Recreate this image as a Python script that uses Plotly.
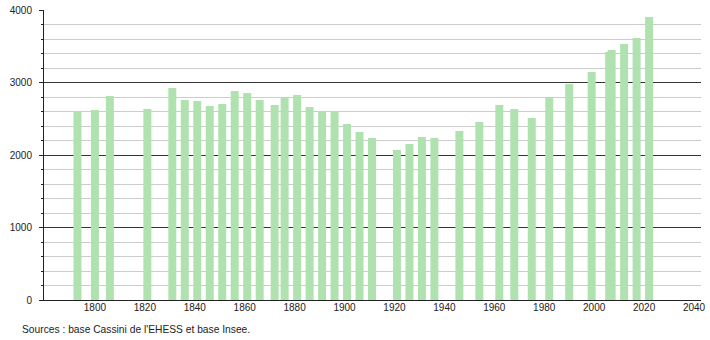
import plotly.graph_objects as go

years = [1793, 1800, 1806, 1821, 1831, 1836, 1841, 1846, 1851, 1856,
         1861, 1866, 1872, 1876, 1881, 1886, 1891, 1896, 1901, 1906,
         1911, 1921, 1926, 1931, 1936, 1946, 1954, 1962, 1968, 1975,
         1982, 1990, 1999, 2006, 2007, 2012, 2017, 2022]
population = [2593, 2621, 2814, 2634, 2924, 2759, 2745, 2676, 2703, 2883,
              2855, 2759, 2690, 2786, 2828, 2662, 2607, 2593, 2428, 2317,
              2234, 2069, 2152, 2248, 2234, 2331, 2455, 2690, 2634, 2510,
              2786, 2979, 3145, 3421, 3448, 3531, 3614, 3903]
x_ticks = [1800, 1820, 1840, 1860, 1880, 1900, 1920, 1940, 1960, 1980, 2000, 2020, 2040]
y_ticks = [0, 1000, 2000, 3000, 4000]
source_text = "Sources : base Cassini de l'EHESS et base Insee."

fig = go.Figure()
fig.add_trace(go.Bar(
    x=years, y=population, width=3.2,
    marker=dict(color="rgb(176,226,176)", line=dict(width=0)),
    hoverinfo="x+y",
))

fig.update_layout(
    width=710, height=340,
    margin=dict(l=44, r=9, t=10, b=40, autoexpand=False),
    paper_bgcolor="white", plot_bgcolor="white",
    font=dict(family="Liberation Sans, Arial, sans-serif", size=10, color="#222"),
    showlegend=False,
    xaxis=dict(
        range=[1779.6, 2042.8], automargin=False,
        tickmode="array", tickvals=x_ticks,
        showgrid=False, zeroline=False,
        showline=True, linecolor="#222", linewidth=1,
        ticks="", ticklabelstandoff=-2,
    ),
    yaxis=dict(
        range=[0, 4000], automargin=False,
        tickmode="array", tickvals=y_ticks,
        showgrid=True, gridcolor="#333", gridwidth=1,
        zeroline=False,
        showline=True, linecolor="#222", linewidth=1,
        ticks="outside", ticklen=4, tickcolor="#222",
        ticklabelstandoff=5,
        minor=dict(dtick=200, showgrid=True, gridcolor="#cccccc", gridwidth=1,
                   ticks="outside", ticklen=2, tickcolor="#222"),
    ),
    annotations=[dict(
        text=source_text, xref="paper", yref="paper",
        x=-0.0365, y=-0.1, xanchor="left", yanchor="middle",
        showarrow=False, font=dict(size=10.25, color="#222"),
    )],
)

fig.write_html("out.html")
